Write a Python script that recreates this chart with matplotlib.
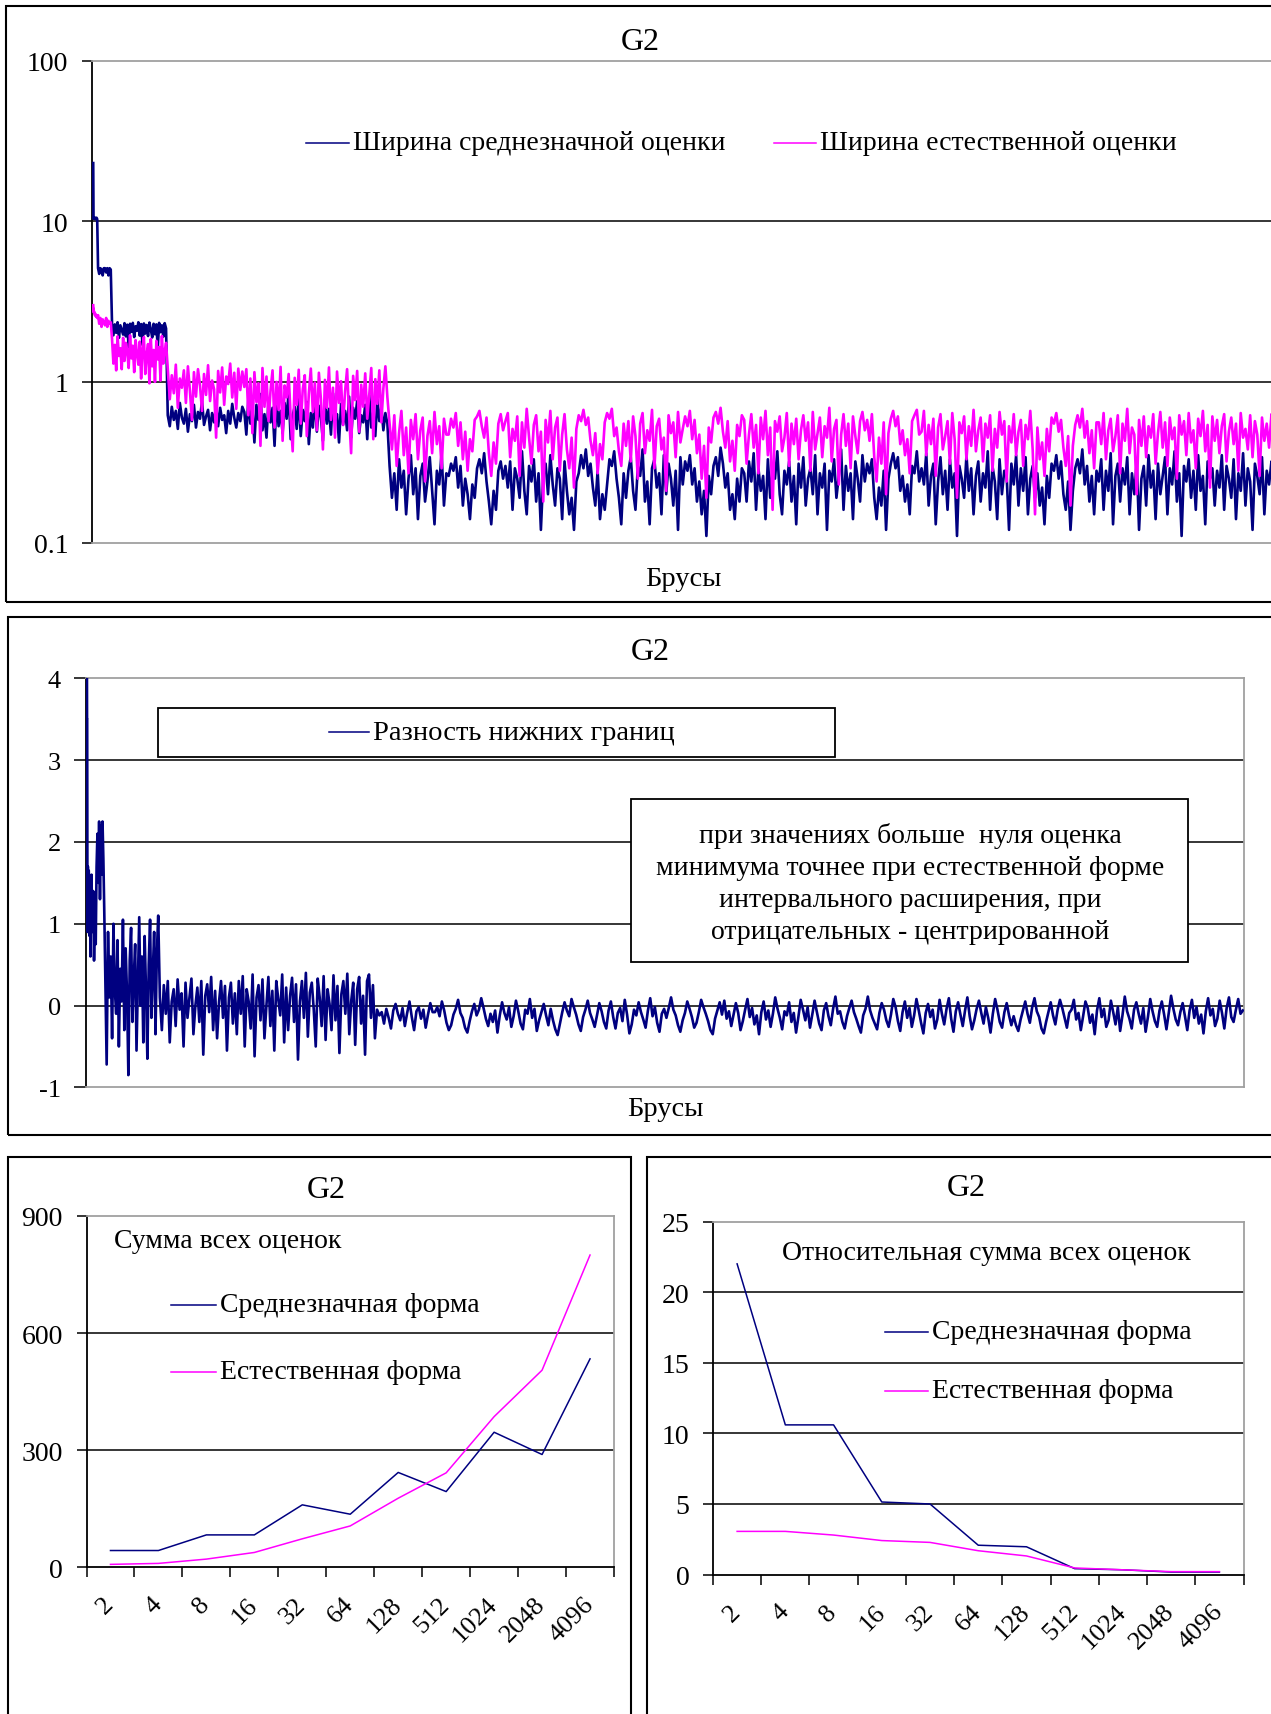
import numpy as np
import matplotlib.pyplot as plt
from matplotlib.patches import Rectangle
from matplotlib.lines import Line2D
from matplotlib.ticker import NullLocator

plt.rcParams['font.family'] = ['Liberation Serif', 'DejaVu Serif']
plt.rcParams['axes.unicode_minus'] = False

W, H = 1271, 1715
NAVY = '#000080'
PINK = '#ff00ff'
GREY = '#a0a0a0'

# boxes on each pair of subdivision levels: (2,4) (8,16) (32,64) (128,256) (512,1024) (2048,4096)
seg_sizes = [6, 24, 96, 384, 1536, 6144]

# --- top chart: width of the mean-value estimate (thinned out)
mean_w_a = [23, 17, 10.4, 10.6, 10.4, 10.5]
mean_w_b = [10.5, 10.3, 10.5, 10.4, 10.5, 10.3]
mean_w_c = [5.1, 4.7, 5.1, 5.0, 4.6, 5.1, 5.1, 4.8, 5.1, 4.6, 5.1, 5.0]
mean_w_d = [2.30, 1.95, 2.28, 2.02, 2.35, 1.88, 2.25, 2.10, 1.97, 2.32, 1.92, 2.27, 1.65, 2.30, 2.05, 2.33,
            1.90, 2.22, 2.08, 2.35, 1.94, 2.29, 1.70, 2.31, 2.00, 2.26, 1.93, 2.34, 2.12, 1.89, 2.30, 1.98,
            2.28, 1.62, 2.33, 2.04, 2.25, 1.91, 2.32, 2.15]
mean_w_e = [.62, .53, .70, .58, .66, .51, .74, .60, .55, .68, .49, .63, .57, .72, .52, .65, .59, .76, .54, .61,
            .67, .50, .64, .56, .71, .53, .69, .58, .62, .48, .66, .55, .73, .60, .52, .64, .57, .70,
            .65, .47, .78, .55, .68, .42, .72, .58, .84, .50, .63, .45, .76, .56, .69, .40, .80, .53, .66, .48,
            .74, .59, .87, .44, .62, .70, .51, .82, .46, .67, .57, .75, .41, .64, .52, .79, .49, .71, .60, .43,
            .77, .55, .68, .47, .85, .58, .63, .42, .73, .54, .66, .50, .81, .45, .69, .59, .76, .48, .62, .56,
            .72, .44, .83, .52, .65, .46, .78, .57, .70, .50, .64, .55]
mean_w_f = [.30, .19, .27, .16, .33, .22, .28, .15, .25, .35, .20, .29, .14, .26, .31, .18, .24, .34, .21, .13, .28, .23, .36, .17, .27,
            .26, .31, .28, .34, .22, .30, .17, .25, .20, .14, .23, .19, .29, .33, .27, .36, .24, .18, .13, .21, .16, .28, .32, .25, .30,
            .22, .32, .16, .29, .25, .19, .37, .21, .15, .30, .24, .33, .18, .27, .12, .26, .31, .20, .35, .23, .17, .29, .25, .14, .32,
            .21, .15, .19, .12, .24, .27, .35, .29, .38, .26, .31, .22, .17, .28, .14, .20, .16, .23, .33, .30, .37, .25, .19, .13, .27,
            .19, .28, .34, .21, .16, .30, .26, .38, .18, .24, .13, .29, .33, .22, .27, .15, .35, .20, .31, .25, .17, .28, .12, .34, .23,
            .32, .28, .35, .23, .29, .18, .24, .15, .21, .11, .26, .20, .30, .34, .26, .39, .31, .22, .27, .16, .20, .14, .25, .18, .29,
            .27, .18, .32, .24, .36, .16, .29, .21, .26, .14, .33, .19, .30, .25, .37, .20, .15, .28, .23, .32, .18, .26, .13, .31, .22,
            .34, .17, .25, .29, .20, .35, .15, .27, .22, .31, .12, .28, .24, .33, .19, .26, .38, .16, .30, .21, .27, .14, .32, .25, .18,
            .35, .24, .31, .27, .33, .19, .14, .22, .17, .28, .12, .25, .31, .36, .29, .34, .21, .26, .18, .23, .15, .30, .27, .37, .24,
            .29, .23, .36, .17, .26, .31, .13, .24, .34, .20, .28, .16, .33, .22, .27, .11, .30, .25, .19, .35, .21, .29, .15, .26, .32,
            .18, .27, .22, .37, .16, .30, .24, .14, .33, .20, .28, .26, .12, .31, .23, .35, .17, .29, .21, .34, .15, .25, .30, .19, .27,
            .17, .22, .13, .26, .19, .31, .28, .35, .25, .32, .20, .16, .24, .12, .21, .29, .33, .27, .38, .23, .30, .18, .26, .15, .28,
            .24, .33, .16, .28, .21, .36, .13, .26, .31, .18, .29, .23, .34, .15, .27, .20, .32, .12, .25, .30, .17, .35, .22, .28, .14,
            .31, .20, .26, .34, .15, .29, .23, .37, .18, .27, .11, .30, .24, .33, .19, .28, .16, .35, .21, .26, .13, .32, .25, .29, .17,
            .28, .22, .35, .16, .30, .25, .19, .33, .14, .27, .21, .36, .17, .29, .24, .12, .31, .26, .20, .34, .15, .28, .23, .32, .19]

# --- top chart: width of the natural estimate
nat_w_a = [3.0, 2.9, 2.8, 2.85, 2.7, 2.75]
nat_w_b = [2.7, 2.6, 2.65, 2.55, 2.6, 2.5]
nat_w_c = [2.6, 2.3, 2.5, 2.2, 2.45, 2.35, 2.25, 2.5, 2.2, 2.4, 2.3, 2.35]
nat_w_d = [1.85, 1.30, 1.70, 1.18, 1.92, 1.45, 1.62, 1.20, 1.88, 1.35, 1.75, 1.55, 1.22, 1.95, 1.40, 1.68,
           1.15, 1.82, 1.50, 1.28, 1.78, 1.05, 1.60, 1.90, 1.12, 1.48, 1.72, 0.98, 1.85, 1.25, 1.58, 1.00,
           1.80, 1.38, 1.65, 1.02, 1.93, 1.30, 1.55, 1.75]
nat_w_e = [1.22, .78, 1.10, .85, 1.28, .69, 1.05, .92, 1.18, .74, 1.25, .88, .58, 1.15, .81, 1.20, .95, .66, 1.12,
           .83, 1.27, .76, 1.02, .90, .45, 1.17, .86, 1.23, .72, 1.08, .97, 1.30, .80, 1.14, .68, 1.21, .89, 1.16,
           .93, 1.20, .62, 1.05, .48, 1.15, .75, .98, .40, 1.22, .70, 1.08, .57, .88, 1.18, .52, 1.00, .67, 1.24,
           .43, .95, .80, 1.12, .60, .37, 1.06, .72, 1.19, .55, .90, 1.10, .46, .84, 1.21, .65, .99, .50, 1.14,
           .78, .38, 1.03, .69, 1.23, .58, .92, .45, 1.16, .74, 1.01, .54, .87, 1.20, .62, .36, 1.09, .77, 1.17,
           .49, .96, .70, 1.13, .59, .83, 1.22, .44, 1.04, .73, 1.18, .56, .91, 1.25, .80]
nat_w_f = [.55, .38, .62, .30, .48, .66, .35, .52, .27, .58, .44, .63, .33, .50, .60, .24, .46, .57, .36, .65, .41, .53, .29, .59, .47,
           .47, .59, .52, .64, .40, .56, .33, .49, .28, .44, .37, .58, .61, .66, .53, .45, .60, .36, .26, .42, .31, .55, .63, .50, .57,
           .64, .34, .51, .43, .61, .26, .56, .39, .68, .45, .31, .54, .62, .37, .49, .18, .58, .42, .66, .33, .52, .60, .28, .47, .63,
           .38, .29, .45, .22, .51, .62, .57, .67, .54, .60, .43, .35, .48, .27, .41, .33, .56, .64, .59, .68, .46, .52, .37, .30, .55,
           .40, .57, .32, .61, .46, .25, .55, .64, .36, .50, .43, .67, .29, .53, .59, .38, .45, .21, .62, .48, .56, .34, .65, .42, .51,
           .61, .53, .66, .44, .58, .36, .47, .25, .40, .19, .52, .42, .60, .65, .55, .69, .49, .39, .57, .32, .43, .28, .54, .46, .62,
           .58, .31, .47, .63, .39, .54, .27, .60, .44, .66, .35, .52, .16, .57, .49, .61, .37, .45, .64, .30, .55, .41, .59, .33, .50,
           .62, .43, .56, .28, .65, .38, .48, .60, .34, .53, .45, .69, .32, .51, .58, .23, .47, .63, .40, .55, .29, .61, .46, .36, .57,
           .65, .50, .58, .43, .63, .34, .24, .45, .31, .56, .20, .48, .59, .66, .53, .61, .41, .50, .35, .44, .27, .57, .62, .67, .47,
           .49, .66, .35, .54, .41, .59, .26, .52, .63, .38, .46, .57, .31, .64, .44, .19, .56, .48, .61, .33, .53, .40, .67, .37, .50,
           .60, .32, .55, .45, .62, .28, .51, .39, .65, .47, .57, .24, .53, .42, .63, .35, .49, .58, .30, .54, .44, .66, .38, .15, .52,
           .33, .42, .26, .51, .37, .60, .55, .64, .49, .58, .39, .30, .46, .17, .40, .54, .62, .52, .68, .45, .57, .36, .50, .29, .56,
           .56, .41, .64, .33, .50, .59, .37, .46, .62, .27, .55, .43, .68, .36, .52, .47, .20, .58, .40, .61, .34, .53, .45, .63, .31,
           .48, .65, .39, .56, .30, .60, .44, .52, .25, .62, .47, .57, .35, .64, .42, .50, .29, .59, .46, .66, .37, .54, .22, .61, .43,
           .58, .36, .53, .63, .32, .49, .60, .41, .55, .28, .64, .45, .51, .38, .62, .34, .57, .47, .26, .60, .43, .55, .39, .63, .50]

# --- middle chart: difference of the lower bounds
diff_a = [4.4, 3.5, 3.5, 1.7, 0.9, 1.6]
diff_b = [1.7, 0.9, 1.65, 1.1, 0.85, 1.5, 0.6, 1.3]
diff_c = [1.6, 0.9, 1.4, 0.55, 1.1, 0.75, 1.7, 2.1, 1.5, 2.25, 1.3, 2.2, 1.6, 2.25, 1.8, 1.2]
diff_d = [0.3, -0.72, 0.9, 0.1, 0.6, -0.4, 1.0, 0.2, -0.1, 0.8, -0.5, 0.45, 0.05, 1.05, -0.3, 0.7, 0.15, -0.85,
          0.55, 0.95, -0.2, 0.35, 0.75, -0.55, 0.25, 1.08, 0.0, 0.6, -0.45, 0.85, 0.2, -0.65, 0.5, 1.05, -0.15,
          0.4, 0.9, -0.35, 0.65, 1.1]
diff_e = [0.1, -0.3, 0.25, -0.1, 0.3, -0.45, 0.05, 0.2, -0.25, 0.32, -0.05, 0.15, -0.5, 0.28, -0.15, 0.1, 0.33,
          -0.35, 0.0, 0.22, -0.2, 0.3, -0.6, 0.12, 0.26, -0.08, 0.35, -0.3, 0.18, -0.4, 0.05, 0.3, -0.15, 0.24,
          -0.55, 0.1, 0.28, -0.22, 0.15, -0.35, 0.3, -0.1, 0.36, -0.5, 0.2, 0.05, -0.28, 0.38, -0.62, 0.1, 0.25,
          -0.18, 0.32, -0.4, 0.0, 0.35, -0.25, 0.18, -0.55, 0.3, 0.08, -0.12, 0.38, -0.45, 0.22, -0.3, 0.12, 0.34,
          -0.2, 0.26, -0.66, 0.05, 0.3, -0.15, 0.4, -0.38, 0.16, 0.28, -0.05, -0.5, 0.33, 0.1, -0.25, 0.36, -0.42,
          0.2, 0.02, -0.3, 0.37, -0.18, 0.24, -0.58, 0.14, 0.3, -0.1, 0.39, -0.35, 0.06, 0.28, -0.48, 0.2, 0.35,
          -0.22, 0.12, -0.6, 0.3, 0.38, -0.15, 0.25, -0.4]
diff_f = [-.05, -.12, -.08, -.22, -.04, -.15, -.28, -.06, .02, -.10, -.18, -.03, -.25, -.09, .05, -.14, -.30, -.07, -.02, -.16, -.05, -.27, -.11, .03, -.08,
          -.08, -.02, -.13, .05, -.06, -.21, -.30, -.24, -.11, -.04, .07, -.09, -.15, -.27, -.33, -.19, -.07, .02, -.12, -.05, .09, -.03, -.16, -.25, -.10,
          -.20, -.06, -.33, -.12, .04, -.09, -.17, -.02, -.26, -.13, .06, -.07, -.22, -.29, -.05, -.10, .08, -.15, -.04, -.31, -.18, -.08, .02, -.12, -.24,
          -.04, -.18, -.29, -.36, -.22, -.08, .04, -.06, -.13, .08, -.02, -.11, -.23, -.31, -.14, -.05, .06, -.09, -.17, -.26, -.12, .03, -.07, -.20, -.28,
          -.06, .05, -.14, -.28, -.09, -.03, -.19, .07, -.11, -.34, -.23, -.05, -.12, .04, -.08, -.17, -.27, -.06, .09, -.13, -.02, -.21, -.32, -.10, -.04,
          -.15, -.03, .10, -.05, -.12, -.24, -.32, -.18, -.09, .05, -.04, -.14, -.27, -.21, -.08, .07, -.02, -.10, -.19, -.30, -.35, -.16, -.06, .04, -.11,
          .06, -.16, -.07, -.25, -.11, .03, -.09, -.30, -.19, -.05, .08, -.14, -.03, -.23, -.12, -.35, -.08, .05, -.17, -.06, -.26, -.10, .10, -.04, -.15,
          -.29, -.07, -.12, .04, -.20, -.09, -.33, -.14, .07, -.05, -.18, -.02, -.27, -.11, .06, -.08, -.22, -.30, -.06, .03, -.13, -.24, -.04, .11, -.10,
          -.07, -.20, -.28, -.13, -.03, .06, -.08, -.16, -.25, -.33, -.12, -.04, .11, -.06, -.15, -.22, -.29, -.09, .03, -.05, -.18, -.26, -.11, .08, -.02,
          -.19, -.31, -.08, .05, -.15, -.03, -.26, -.12, .08, -.06, -.21, -.34, -.09, .02, -.14, -.05, -.28, -.17, .07, -.10, -.23, -.04, .09, -.16, -.32,
          -.07, .04, -.11, -.25, -.06, .10, -.13, -.29, -.18, -.04, .06, -.09, -.22, -.02, -.15, -.33, -.10, .08, -.05, -.20, -.27, -.08, .03, -.12, -.24,
          -.13, -.24, -.31, -.17, -.06, .05, -.10, -.21, -.02, .09, -.07, -.14, -.28, -.34, -.20, -.08, .04, -.12, -.23, -.05, .07, -.03, -.15, -.27, -.09,
          -.05, .07, -.17, -.09, -.30, -.13, .05, -.03, -.21, -.11, -.35, -.06, .09, -.14, -.04, -.26, -.18, .06, -.08, -.23, -.02, -.31, -.12, .11, -.07,
          -.16, -.28, -.05, .04, -.10, -.22, -.03, -.32, -.14, .08, -.07, -.19, -.26, -.06, .05, -.11, -.29, -.09, .12, -.04, -.17, -.24, -.08, .03, -.13,
          -.30, -.06, .07, -.15, -.02, -.22, -.11, -.34, -.07, .09, -.12, -.04, -.25, -.16, .06, -.09, -.28, -.03, .10, -.14, -.20, -.05, .08, -.10, -.06]

# --- bottom charts: sums over a level
levels = ['2', '4', '8', '16', '32', '64', '128', '512', '1024', '2048', '4096']
sum_mean = [43, 43, 83, 83, 160, 136, 243, 194, 346, 289, 534]
sum_nat = [7.5, 10, 21, 38, 73, 106, 177, 242, 386, 505, 800]
rel_mean = [22.0, 10.6, 10.6, 5.14, 5.0, 2.08, 1.97, 0.42, 0.34, 0.18, 0.18]
rel_nat = [3.06, 3.06, 2.8, 2.41, 2.28, 1.69, 1.32, 0.47, 0.34, 0.21, 0.21]


def seg_xy(parts):
    # spread the thinned values evenly over the boxes of their level pair
    xs, start = [], 0
    for n_pts, vals in zip(seg_sizes, parts):
        step = n_pts / len(vals)
        xs.append(start + step * (np.arange(len(vals)) + 0.5))
        start += n_pts
    return np.concatenate(xs), np.concatenate([np.asarray(v, float) for v in parts])


fig = plt.figure(figsize=(W / 100, H / 100), dpi=100)


def px_axes(l, t, r, b):
    return fig.add_axes([l / W, 1 - b / H, (r - l) / W, (b - t) / H])


def box(l, t, r, b, lw=1.5):
    fig.add_artist(Rectangle((l / W, 1 - b / H), (r - l) / W, (b - t) / H,
                             transform=fig.transFigure, fill=False, ec='black', lw=lw))


def ftext(x, y, s, size=20, ha='center', **kw):
    fig.text(x / W, 1 - y / H, s, ha=ha, va='center', fontsize=size, **kw)


def key(x0, x1, y, color, label, size=20):
    fig.add_artist(Line2D([x0 / W, x1 / W], [1 - y / H] * 2, color=color, lw=1.1))
    ftext(x1 + 4, y, label, size=size, ha='left')


def style(ax, black_bottom=False):
    for s in ['top', 'right', 'bottom']:
        ax.spines[s].set_color(GREY)
        ax.spines[s].set_linewidth(1.3)
    ax.spines['left'].set_linewidth(1.3)
    if black_bottom:
        ax.spines['bottom'].set_color('black')
    ax.tick_params(axis='y', direction='out', length=7, width=1.1, labelsize=20, pad=10)


# outer frames
box(6, 7, 1290, 603)
box(8, 618, 1290, 1136)
box(8, 1158, 631, 1740)
box(647, 1158, 1290, 1740)

# ---------------- top chart
ax1 = px_axes(92, 61.5, 1275, 543.6)
x, y = seg_xy([mean_w_a, mean_w_b, mean_w_c, mean_w_d, mean_w_e, mean_w_f])
ax1.plot(x, y, color=NAVY, lw=1.9, zorder=3)
x, y = seg_xy([nat_w_a, nat_w_b, nat_w_c, nat_w_d, nat_w_e, nat_w_f])
ax1.plot(x, y, color=PINK, lw=1.9, zorder=3)
ax1.set_yscale('log')
ax1.set_ylim(0.1, 100)
ax1.set_xlim(-8, sum(seg_sizes))
ax1.set_yticks([0.1, 1, 10, 100], ['0.1', '1', '10', '100'])
ax1.yaxis.set_minor_locator(NullLocator())
ax1.set_xticks([])
for v in [1, 10]:
    ax1.axhline(v, color='black', lw=1.1, zorder=0)
style(ax1)
ftext(640, 42, 'G2', size=23)
ftext(683, 580, 'Брусы', size=20.5)
key(306, 349, 144, NAVY, 'Ширина среднезначной оценки')
key(774, 816, 144, PINK, 'Ширина естественной оценки')

# ---------------- middle chart
ax2 = px_axes(85.7, 679.3, 1244, 1088.4)
x, y = seg_xy([diff_a, diff_b, diff_c, diff_d, diff_e, diff_f])
ax2.plot(x, y, color=NAVY, lw=1.9, zorder=3)
ax2.set_ylim(-1, 4)
ax2.set_xlim(-8, sum(seg_sizes))
ax2.set_yticks(range(-1, 5), [str(v) for v in range(-1, 5)])
ax2.set_xticks([])
for v in [0, 1, 2, 3]:
    ax2.axhline(v, color='black', lw=1.1, zorder=0)
style(ax2)
ax2.tick_params(axis='y', labelsize=19, length=9, pad=9)
ftext(650, 653, 'G2', size=23)
ftext(665, 1110, 'Брусы', size=20.5)
box(158, 709, 835, 757.7, lw=1.3)
key(329, 369, 733, NAVY, 'Разность нижних границ', size=20.5)
fig.add_artist(Rectangle((631 / W, 1 - 962.6 / H), (1188 - 631) / W, (962.6 - 800) / H,
                         transform=fig.transFigure, fc='white', ec='black', lw=1.3))
ftext(910, 884, 'при значениях больше  нуля оценка\nминимума точнее при естественной форме\n'
      'интервального расширения, при\nотрицательных - центрированной', linespacing=1.37)

# ---------------- bottom charts
cx = np.arange(len(levels)) + 0.5


def bottom_chart(ax, mean_vals, nat_vals, top, step):
    ax.plot(cx, mean_vals, color=NAVY, lw=1.1)
    ax.plot(cx, nat_vals, color=PINK, lw=1.1)
    ax.set_xlim(0, len(levels))
    ax.set_ylim(0, top)
    ticks = np.arange(0, top + step, step)
    ax.set_yticks(ticks, [f'{t:g}' for t in ticks])
    for v in ticks[1:-1]:
        ax.axhline(v, color='black', lw=1.1, zorder=0)
    ax.set_xticks(np.arange(len(levels) + 1))
    ax.set_xticklabels([])
    ax.set_xticks(cx, levels, minor=True)
    ax.tick_params(axis='x', which='major', direction='out', length=7, width=1.1)
    ax.tick_params(axis='x', which='minor', length=0, pad=24, labelsize=19)
    for lab in ax.get_xticklabels(minor=True):
        lab.set_rotation(45)
        lab.set_ha('right')
        lab.set_va('center')
        lab.set_rotation_mode('anchor')
    style(ax, black_bottom=True)


ax3 = px_axes(86.5, 1217, 614, 1568.3)
bottom_chart(ax3, sum_mean, sum_nat, 900, 300)
ftext(326, 1190, 'G2', size=23)
ftext(114, 1241.5, 'Сумма всех оценок', ha='left')
key(171, 216, 1306, NAVY, 'Среднезначная форма')
key(171, 216, 1373, PINK, 'Естественная форма')

ax4 = px_axes(713, 1222.5, 1243.5, 1575.6)
bottom_chart(ax4, rel_mean, rel_nat, 25, 5)
ftext(966, 1189, 'G2', size=23)
ftext(986, 1253.5, 'Относительная сумма всех оценок')
key(885, 928, 1332.5, NAVY, 'Среднезначная форма')
key(885, 928, 1392, PINK, 'Естественная форма')

fig.savefig('out.png', dpi=100)
